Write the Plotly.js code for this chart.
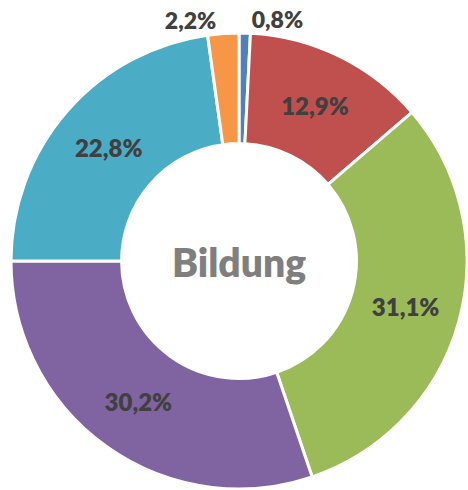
<!DOCTYPE html>
<html>
<head>
<meta charset="utf-8">
<script src="https://cdn.plot.ly/plotly-3.0.1.min.js"></script>
<style>html,body{margin:0;padding:0;background:#fff;}#chart{width:468px;height:490px;}</style>
</head>
<body>
<div id="chart"></div>
<script>
const categories = ["Blau", "Rot", "Grün", "Violett", "Türkis", "Orange"];
const values = [0.8, 12.9, 31.1, 30.2, 22.8, 2.2];
const labelsText = ["0,8%", "12,9%", "31,1%", "30,2%", "22,8%", "2,2%"];
const colors = ["#4F81BD", "#C0504D", "#9BBB59", "#8064A2", "#4BACC6", "#F79646"];
const positions = ["outside", "inside", "inside", "inside", "inside", "outside"];
const centerTitle = "Bildung";

const fontFam = "Lato, 'Open Sans', sans-serif";
const trace = {
  type: "pie",
  labels: categories,
  values: values,
  text: labelsText,
  textinfo: "text",
  texttemplate: "%{text}",
  textposition: positions,
  insidetextorientation: "horizontal",
  sort: false,
  direction: "clockwise",
  rotation: 0,
  hole: 0.515,
  marker: {colors: colors, line: {color: "#ffffff", width: 3}},
  textfont: {family: fontFam, size: 24, color: "#404040", weight: 800},
  insidetextfont: {family: fontFam, size: 24, color: "#404040", weight: 800},
  outsidetextfont: {family: fontFam, size: 23, color: "#404040", weight: 800},
  title: {text: centerTitle, position: "middle center", font: {family: fontFam, size: 39, color: "#7f7f7f", weight: 800}},
  showlegend: false,
  automargin: false
};

const layout = {
  width: 468, height: 490,
  margin: {l: 11, r: 1, t: 33, b: 1},
  paper_bgcolor: "#ffffff",
  plot_bgcolor: "#ffffff",
  showlegend: false
};

Plotly.newPlot("chart", [trace], layout, {displayModeBar: false, staticPlot: true});
</script>
</body>
</html>
